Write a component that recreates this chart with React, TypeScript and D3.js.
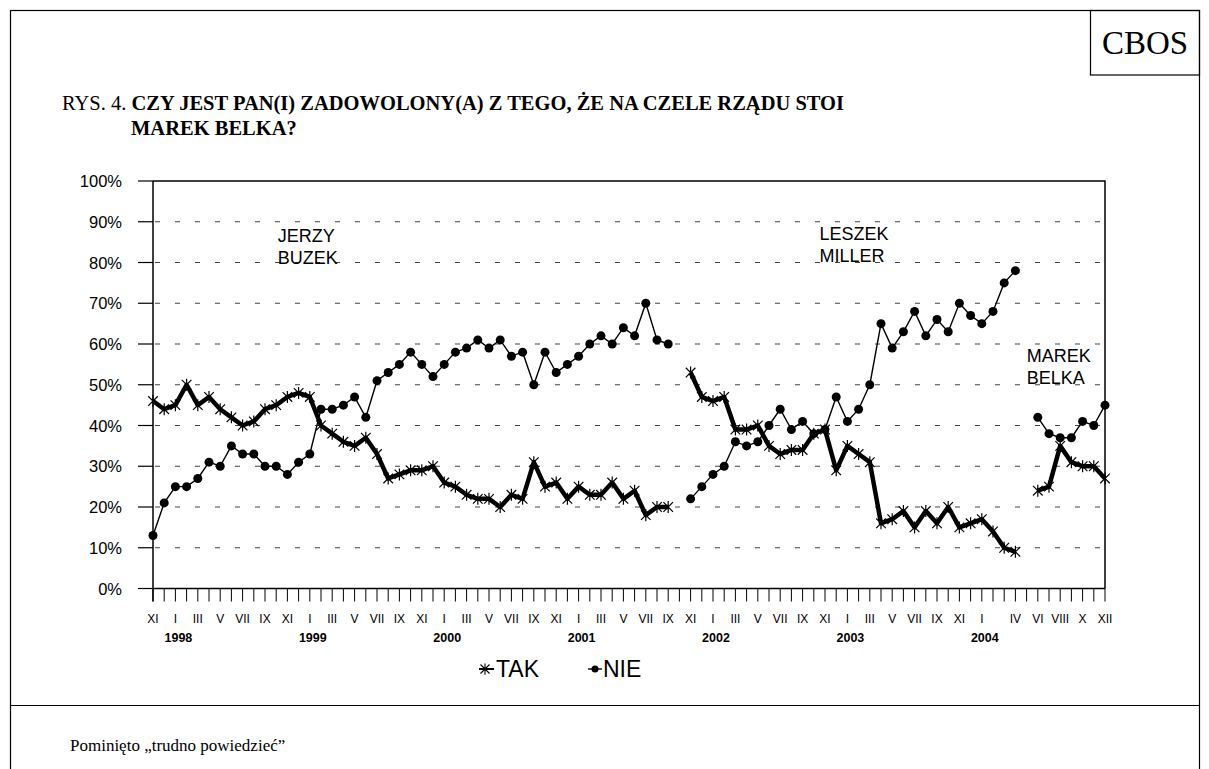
import { useEffect, useRef } from "react";
import * as d3 from "d3";

// months of the survey, XI 1997 .. XII 2004
const ROMAN = ["I", "II", "III", "IV", "V", "VI", "VII", "VIII", "IX", "X", "XI", "XII"];
const MONTHS: string[] = [];
for (let yr = 1997; yr <= 2004; yr++) {
	for (let m = 0; m < 12; m++) {
		if (yr === 1997 && m < 10) continue;
		MONTHS.push(`${ROMAN[m]} ${yr}`);
	}
}

// TAK - satisfied (null = no survey / change of government)
const TAK: (number | null)[] = [
	46, 44, 45, 50, 45, 47, 44, 42, 40, 41, 44, 45, 47, 48, 47, 40, 38, 36, 35, 37,
	33, 27, 28, 29, 29, 30, 26, 25, 23, 22, 22, 20, 23, 22, 31, 25, 26, 22, 25, 23,
	23, 26, 22, 24, 18, 20, 20, null,
	53, 47, 46, 47, 39, 39, 40, 35, 33, 34, 34, 38, 39, 29, 35, 33, 31, 16, 17, 19,
	15, 19, 16, 20, 15, 16, 17, 14, 10, 9, null,
	24, 25, 35, 31, 30, 30, 27
];

// NIE - not satisfied
const NIE: (number | null)[] = [
	13, 21, 25, 25, 27, 31, 30, 35, 33, 33, 30, 30, 28, 31, 33, 44, 44, 45, 47, 42,
	51, 53, 55, 58, 55, 52, 55, 58, 59, 61, 59, 61, 57, 58, 50, 58, 53, 55, 57, 60,
	62, 60, 64, 62, 70, 61, 60, null,
	22, 25, 28, 30, 36, 35, 36, 40, 44, 39, 41, 38, 39, 47, 41, 44, 50, 65, 59, 63,
	68, 62, 66, 63, 70, 67, 65, 68, 75, 78, null,
	42, 38, 37, 37, 41, 40, 45
];

// categories that carry a label on the x axis
const LABELED = [
	"XI 1997", "I 1998", "III 1998", "V 1998", "VII 1998", "IX 1998", "XI 1998",
	"I 1999", "III 1999", "V 1999", "VII 1999", "IX 1999", "XI 1999",
	"I 2000", "III 2000", "V 2000", "VII 2000", "IX 2000", "XI 2000",
	"I 2001", "III 2001", "V 2001", "VII 2001", "IX 2001", "XI 2001",
	"I 2002", "III 2002", "V 2002", "VII 2002", "IX 2002", "XI 2002",
	"I 2003", "III 2003", "V 2003", "VII 2003", "IX 2003", "XI 2003",
	"I 2004", "IV 2004", "VI 2004", "VIII 2004", "X 2004", "XII 2004"
];
const YEARS = ["1998", "1999", "2000", "2001", "2002", "2003", "2004"];
const Y_TICKS = [0, 10, 20, 30, 40, 50, 60, 70, 80, 90, 100];

// prime ministers, written into the plot
const ANNOTATIONS = [
	{ at: "I 1999", value: 85, dx: -32, lines: ["JERZY", "BUZEK"] },
	{ at: "I 2003", value: 85.5, dx: -28, lines: ["LESZEK", "MILLER"] },
	{ at: "VI 2004", value: 55.5, dx: -11, lines: ["MAREK", "BELKA"] }
];

const SANS = "'Liberation Sans', Arial, sans-serif";
const SERIF = "'Liberation Serif', 'Times New Roman', serif";

const starPath = (s: number) =>
	`M${-s},${-s}L${s},${s}M${-s},${s}L${s},${-s}M0,${-s * 1.25}L0,${s * 1.25}`;

export default function App() {
	const ref = useRef<SVGSVGElement>(null);

	useEffect(() => {
		const svg = d3.select(ref.current);
		svg.selectAll("*").remove();

		const H = 769;
		const left = 153, right = 1105, top = 181, bottom = 588.5;

		// frame of the page
		svg.append("rect")
			.attr("x", 10.5).attr("y", 10.5)
			.attr("width", 1189).attr("height", H + 20)
			.attr("fill", "none").attr("stroke", "#000").attr("stroke-width", 1.2);

		// CBOS box
		svg.append("rect")
			.attr("x", 1090.5).attr("y", 10.5)
			.attr("width", 109).attr("height", 64.5)
			.attr("fill", "none").attr("stroke", "#000").attr("stroke-width", 1.2);
		svg.append("text")
			.attr("x", 1145).attr("y", 54)
			.attr("text-anchor", "middle")
			.attr("font-family", SERIF).attr("font-size", "33px")
			.text("CBOS");

		// title
		const t1 = svg.append("text")
			.attr("x", 62).attr("y", 110)
			.attr("font-family", SERIF).attr("font-size", "20.5px");
		t1.append("tspan").text("RYS. 4. ");
		t1.append("tspan").attr("font-weight", "bold")
			.text("CZY JEST PAN(I) ZADOWOLONY(A) Z TEGO, ŻE NA CZELE RZĄDU STOI");
		svg.append("text")
			.attr("x", 131).attr("y", 135)
			.attr("font-family", SERIF).attr("font-size", "20.5px")
			.attr("font-weight", "bold")
			.text("MAREK BELKA?");

		// footer
		svg.append("line")
			.attr("x1", 10).attr("x2", 1199)
			.attr("y1", 705.5).attr("y2", 705.5)
			.attr("stroke", "#000").attr("stroke-width", 1.2);
		svg.append("text")
			.attr("x", 70).attr("y", 751)
			.attr("font-family", SERIF).attr("font-size", "17px")
			.text("Pominięto „trudno powiedzieć”");

		// scales
		const x = d3.scalePoint<string>().domain(MONTHS).range([left, right]);
		const y = d3.scaleLinear().domain([0, 100]).range([bottom, top]);

		// dashed gridlines
		svg.append("g")
			.selectAll("line")
			.data(Y_TICKS.filter(v => v > 0 && v < 100))
			.join("line")
			.attr("x1", left).attr("x2", right)
			.attr("y1", d => y(d)).attr("y2", d => y(d))
			.attr("stroke", "#444").attr("stroke-width", 1.2)
			.attr("stroke-dasharray", "5,15")
			.attr("stroke-dashoffset", -2);

		// plot border (top and right)
		svg.append("path")
			.attr("d", `M${left},${top}H${right}V${bottom}`)
			.attr("fill", "none").attr("stroke", "#000").attr("stroke-width", 1.5);

		// y axis
		svg.append("line")
			.attr("x1", left).attr("x2", left)
			.attr("y1", top).attr("y2", bottom + 13)
			.attr("stroke", "#000").attr("stroke-width", 1.5);
		svg.append("g")
			.selectAll("line")
			.data(Y_TICKS)
			.join("line")
			.attr("x1", left - 15).attr("x2", left)
			.attr("y1", d => y(d)).attr("y2", d => y(d))
			.attr("stroke", "#000").attr("stroke-width", 1.2);
		svg.append("g")
			.selectAll("text")
			.data(Y_TICKS)
			.join("text")
			.attr("x", 122).attr("y", d => y(d) + 6)
			.attr("text-anchor", "end")
			.attr("font-family", SANS).attr("font-size", "16.5px")
			.text(d => `${d}%`);

		// x axis
		svg.append("line")
			.attr("x1", left).attr("x2", right)
			.attr("y1", bottom).attr("y2", bottom)
			.attr("stroke", "#000").attr("stroke-width", 1.5);
		svg.append("g")
			.selectAll("line")
			.data(MONTHS)
			.join("line")
			.attr("x1", d => x(d)!).attr("x2", d => x(d)!)
			.attr("y1", bottom).attr("y2", bottom + 13)
			.attr("stroke", "#000").attr("stroke-width", 1);
		svg.append("g")
			.selectAll("text")
			.data(LABELED)
			.join("text")
			.attr("x", d => x(d)!).attr("y", 623)
			.attr("text-anchor", "middle")
			.attr("font-family", SANS).attr("font-size", "12px")
			.text(d => d.split(" ")[0]);
		svg.append("g")
			.selectAll("text")
			.data(YEARS)
			.join("text")
			.attr("x", d => x(`I ${d}`)! + 3).attr("y", 642)
			.attr("text-anchor", "middle")
			.attr("font-family", SANS).attr("font-size", "12.5px")
			.attr("font-weight", "bold")
			.text(d => d);

		// series
		const line = d3.line<number | null>()
			.defined(d => d != null)
			.x((_, i) => x(MONTHS[i])!)
			.y(d => y(d as number));

		svg.append("path")
			.datum(NIE)
			.attr("d", line)
			.attr("fill", "none").attr("stroke", "#000").attr("stroke-width", 1.4);
		svg.append("g")
			.selectAll("circle")
			.data(NIE.map((v, i) => ({ v, m: MONTHS[i] })).filter(d => d.v != null))
			.join("circle")
			.attr("cx", d => x(d.m)!).attr("cy", d => y(d.v as number))
			.attr("r", 4.5).attr("fill", "#000");

		svg.append("path")
			.datum(TAK)
			.attr("d", line)
			.attr("fill", "none").attr("stroke", "#000").attr("stroke-width", 4.5)
			.attr("stroke-linejoin", "round");
		svg.append("g")
			.selectAll("path")
			.data(TAK.map((v, i) => ({ v, m: MONTHS[i] })).filter(d => d.v != null))
			.join("path")
			.attr("transform", d => `translate(${x(d.m)},${y(d.v as number)})`)
			.attr("d", starPath(4.8))
			.attr("stroke", "#000").attr("stroke-width", 1.2).attr("fill", "none");

		// government annotations
		ANNOTATIONS.forEach(a => {
			const tx = svg.append("text")
				.attr("font-family", SANS).attr("font-size", "18px");
			a.lines.forEach((l, i) => {
				tx.append("tspan")
					.attr("x", x(a.at)! + a.dx)
					.attr("y", y(a.value) + i * 21.5)
					.text(l);
			});
		});

		// legend
		const lg = svg.append("g");
		lg.append("line")
			.attr("x1", 479).attr("x2", 494).attr("y1", 669).attr("y2", 669)
			.attr("stroke", "#000").attr("stroke-width", 2);
		lg.append("path")
			.attr("transform", "translate(485,669)")
			.attr("d", starPath(4.5))
			.attr("stroke", "#000").attr("stroke-width", 1.1);
		lg.append("text")
			.attr("x", 496).attr("y", 677)
			.attr("font-family", SANS).attr("font-size", "23px")
			.text("TAK");
		lg.append("line")
			.attr("x1", 588).attr("x2", 602).attr("y1", 669).attr("y2", 669)
			.attr("stroke", "#000").attr("stroke-width", 1.4);
		lg.append("circle")
			.attr("cx", 595).attr("cy", 669).attr("r", 3.5).attr("fill", "#000");
		lg.append("text")
			.attr("x", 603).attr("y", 677)
			.attr("font-family", SANS).attr("font-size", "23px")
			.text("NIE");
	}, []);

	return (
		<svg
			ref={ref}
			width={1209}
			height={769}
			style={{ position: "absolute", left: 0, top: 0, background: "#fff" }}
		/>
	);
}
